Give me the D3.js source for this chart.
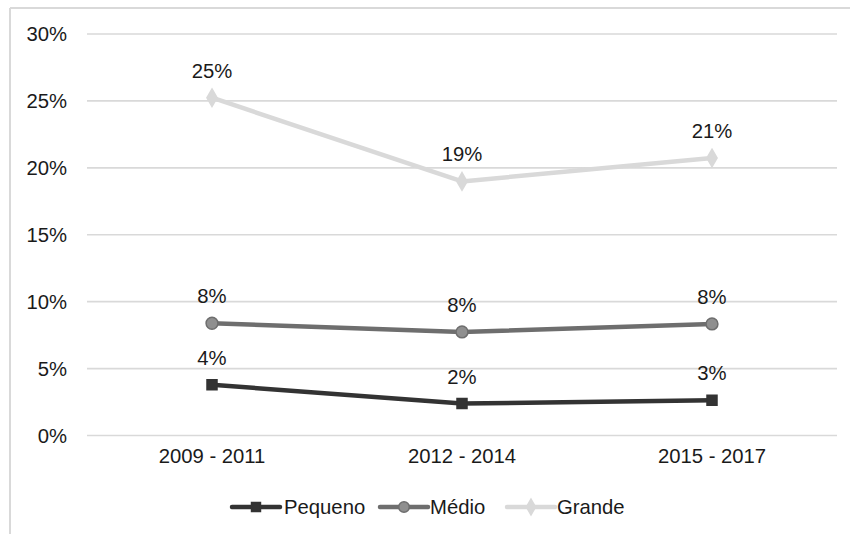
<!DOCTYPE html>
<html>
<head>
<meta charset="utf-8">
<script src="https://cdn.jsdelivr.net/npm/d3@7"></script>
<style>
  html, body { margin: 0; padding: 0; background: #ffffff; }
  svg { display: block; font-family: "Liberation Sans", Arial, sans-serif; }
</style>
</head>
<body>
<svg id="chart" width="850" height="534"></svg>
<script>
const categories = ["2009 - 2011", "2012 - 2014", "2015 - 2017"];
const seriesNames = ["Pequeno", "Médio", "Grande"];
const pequeno = [3.75, 2.35, 2.6];
const medio = [8.35, 7.7, 8.3];
const grande = [25.2, 18.95, 20.7];
const yTicks = [0, 5, 10, 15, 20, 25, 30];

const seriesValues = [pequeno, medio, grande];
const styles = [
  { line: "#333333", fill: "#333333", stroke: "#333333", shape: d3.symbolSquare, size: 100 },
  { line: "#6e6e6e", fill: "#8f8f8f", stroke: "#6e6e6e", shape: d3.symbolCircle, size: 110 },
  { line: "#d9d9d9", fill: "#d9d9d9", stroke: "#d9d9d9", shape: d3.symbolDiamond, size: 90 }
];
const FS = "20.3px";

const svg = d3.select("#chart");
const W = 850, H = 534;
const m = { left: 87, right: 13, top: 33.5, bottom: 99 };

svg.append("rect").attr("x", 0).attr("y", 0).attr("width", W).attr("height", H).attr("fill", "#ffffff");
svg.append("line").attr("x1", 10).attr("x2", 10).attr("y1", 8).attr("y2", H).attr("stroke", "#d9d9d9").attr("stroke-width", 2);
svg.append("line").attr("x1", 10).attr("x2", W).attr("y1", 8).attr("y2", 8).attr("stroke", "#d9d9d9").attr("stroke-width", 2);

const x = d3.scaleBand().domain(categories).range([m.left, W - m.right]);
const y = d3.scaleLinear().domain([0, 30]).range([H - m.bottom, m.top]);

const yAxis = d3.axisLeft(y).tickValues(yTicks).tickFormat(d => d + "%")
  .tickSize(-(W - m.left - m.right)).tickPadding(20);
const gy = svg.append("g").attr("transform", `translate(${m.left},0)`).call(yAxis);
gy.select(".domain").remove();
gy.selectAll(".tick line").attr("stroke", "#d9d9d9").attr("stroke-width", 1.6);
gy.selectAll(".tick text").attr("fill", "#1a1a1a").style("font-size", FS)
  .attr("x", -20).attr("dy", "0.35em");

const xAxis = d3.axisBottom(x).tickSize(0).tickPadding(14);
const gx = svg.append("g").attr("transform", `translate(0,${H - m.bottom})`).call(xAxis);
gx.select(".domain").remove();
gx.selectAll(".tick text").attr("fill", "#1a1a1a").style("font-size", FS).attr("dy", "0.71em");

const cx = d => x(d) + x.bandwidth() / 2;
const line = d3.line().x((d, i) => cx(categories[i])).y(d => y(d));

[2, 1, 0].forEach(si => {
  const vals = seriesValues[si];
  const st = styles[si];
  svg.append("path").datum(vals).attr("d", line)
    .attr("fill", "none").attr("stroke", st.line).attr("stroke-width", 4.5).attr("stroke-linejoin", "round");
  svg.selectAll(null).data(vals).enter().append("path")
    .attr("d", d3.symbol().type(st.shape).size(st.size))
    .attr("transform", (d, i) => `translate(${cx(categories[i])},${y(d)})`)
    .attr("fill", st.fill).attr("stroke", st.stroke).attr("stroke-width", 1.5);
});

seriesValues.forEach((vals) => {
  svg.selectAll(null).data(vals).enter().append("text")
    .attr("x", (d, i) => cx(categories[i]))
    .attr("y", d => y(d) - 20)
    .attr("text-anchor", "middle")
    .attr("fill", "#1a1a1a")
    .style("font-size", FS)
    .text(d => Math.round(d) + "%");
});

const legendY = 507;
const legendItems = [
  { x: 232, tx: 284 },
  { x: 380, tx: 430 },
  { x: 507, tx: 557 }
];
seriesNames.forEach((name, i) => {
  const st = styles[i];
  const g = svg.append("g");
  const lx = legendItems[i].x;
  g.append("line").attr("x1", lx).attr("x2", lx + 48).attr("y1", legendY).attr("y2", legendY)
    .attr("stroke", st.line).attr("stroke-width", 4.5).attr("stroke-linecap", "round");
  g.append("path").attr("d", d3.symbol().type(st.shape).size(st.size * 0.8))
    .attr("transform", `translate(${lx + 24},${legendY})`)
    .attr("fill", st.fill).attr("stroke", st.stroke).attr("stroke-width", 1.5);
  g.append("text").attr("x", legendItems[i].tx).attr("y", legendY).attr("dy", "0.35em")
    .attr("fill", "#1a1a1a").style("font-size", FS).text(name);
});
</script>
</body>
</html>
